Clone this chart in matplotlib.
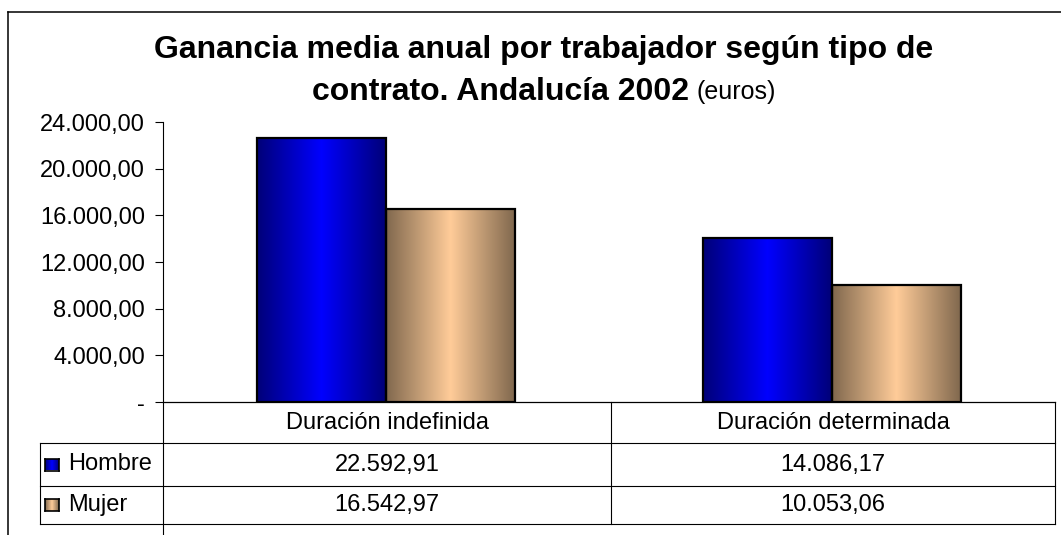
import numpy as np
import matplotlib
matplotlib.use('Agg')
import matplotlib.pyplot as plt
import matplotlib.ticker as mticker
from matplotlib.lines import Line2D

plt.rcParams['font.family'] = ['Liberation Sans', 'DejaVu Sans']

# datos del grafico
categorias = ['Duración indefinida', 'Duración determinada']
series = ['Hombre', 'Mujer']
hombre = [22592.91, 14086.17]
mujer = [16542.97, 10053.06]
yticks = [0, 4000, 8000, 12000, 16000, 20000, 24000]

W, H = 1061, 535
fig = plt.figure(figsize=(W / 100, H / 100), dpi=100)


# pasar pixeles a coordenadas de figura
def fx(px):
    return px / W


def fy(py):
    return 1 - py / H


# formato numerico espanol: 24.000,00 y '-' para el cero
def num_es(v, pos=None):
    if v == 0:
        return '-'
    s = f'{v:,.2f}'
    return s.replace(',', 'X').replace('.', ',').replace('X', '.')


def degradado(oscuro, claro, n=256):
    t = 1 - np.abs(np.linspace(-1, 1, n))
    oscuro = np.array(oscuro) / 255.0
    claro = np.array(claro) / 255.0
    return (oscuro[None, :] + (claro - oscuro)[None, :] * t[:, None])[None, :, :]


grad_azul = degradado((0, 0, 120), (0, 0, 255))
grad_beige = degradado((128, 104, 78), (255, 204, 153))

ax = fig.add_axes([fx(163), fy(402), fx(1055) - fx(163), fy(122) - fy(402)])
x = np.arange(len(categorias))
w = 0.289
b1 = ax.bar(x - w / 2, hombre, w, facecolor='none', edgecolor='black', lw=1.6, zorder=3)
b2 = ax.bar(x + w / 2, mujer, w, facecolor='none', edgecolor='black', lw=1.6, zorder=3)
for cont, grad in ((b1, grad_azul), (b2, grad_beige)):
    for p in cont.patches:
        x0 = p.get_x()
        ax.imshow(grad, extent=(x0, x0 + p.get_width(), 0, p.get_height()),
                  aspect='auto', zorder=2, interpolation='bilinear')

ax.set_xlim(-0.5, 1.5)
ax.set_ylim(0, 24000)
ax.set_yticks(yticks)
ax.yaxis.set_major_formatter(mticker.FuncFormatter(num_es))
ax.set_xticks([])
ax.tick_params(axis='y', length=5.8, width=0.8, pad=7, labelsize=17)
for s in ('top', 'right'):
    ax.spines[s].set_visible(False)
ax.spines['left'].set_linewidth(0.8)
ax.spines['bottom'].set_linewidth(0.9)

# titulo
fig.text(fx(544), fy(50), 'Ganancia media anual por trabajador según tipo de',
         ha='center', va='center', fontsize=23, fontweight='bold')
fig.text(fx(689), fy(92), 'contrato. Andalucía 2002', ha='right', va='center',
         fontsize=23, fontweight='bold')
fig.text(fx(696), fy(92), '(euros)', ha='left', va='center', fontsize=18)


def linea(x0, y0, x1, y1, lw=0.8):
    fig.add_artist(Line2D([fx(x0), fx(x1)], [fy(y0), fy(y1)],
                          transform=fig.transFigure, color='black', lw=lw))


# marco exterior
linea(8, 12, 1061, 12, lw=1.1)
linea(8, 12, 8, 535, lw=1.1)

# tabla de datos
col_x = [163, 611, 1055]
filas_y = [402, 443, 486, 524]
linea(163, 402, 163, 535)
linea(611, 402, 611, 524)
linea(1055, 402, 1055, 524)
linea(40, 443, 40, 524)
for yy in filas_y[1:]:
    linea(40, yy, 1055, yy)

for i, cat in enumerate(categorias):
    cx = (col_x[i] + col_x[i + 1]) / 2
    fig.text(fx(cx), fy(423), cat, ha='center', va='center', fontsize=17)
    for j, vals in enumerate((hombre, mujer)):
        cy = (filas_y[j + 1] + filas_y[j + 2]) / 2
        fig.text(fx(cx), fy(cy), num_es(vals[i]), ha='center', va='center', fontsize=17)

for j, (nombre, grad) in enumerate(zip(series, (grad_azul, grad_beige))):
    cy = (filas_y[j + 1] + filas_y[j + 2]) / 2
    lax = fig.add_axes([fx(45), fy(cy + 6), fx(59) - fx(45), fy(cy - 6) - fy(cy + 6)])
    lax.imshow(grad, aspect='auto', interpolation='bilinear')
    lax.set_xticks([])
    lax.set_yticks([])
    for s in lax.spines.values():
        s.set_linewidth(1.2)
    fig.text(fx(68), fy(cy), nombre, ha='left', va='center', fontsize=17)

fig.savefig('out.png', dpi=100)
